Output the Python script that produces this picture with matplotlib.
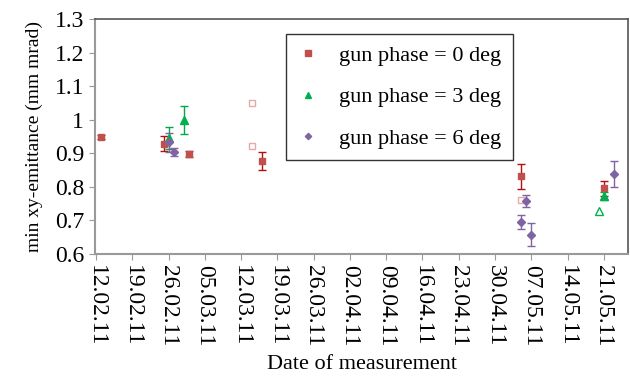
import pandas as pd
import matplotlib
matplotlib.use("Agg")
import matplotlib.pyplot as plt

plt.rcParams['font.family'] = ['Liberation Serif', 'DejaVu Serif']

# gun phase = 0 deg
p0_dates = ['13.02.11', '25.02.11', '02.03.11', '16.03.11', '05.05.11', '21.05.11']
p0_vals = [0.948, 0.928, 0.898, 0.877, 0.831, 0.796]
p0_err = [0.006, 0.022, 0.010, 0.027, 0.038, 0.022]
p0_open_dates = ['14.03.11', '14.03.11', '05.05.11']
p0_open_vals = [1.050, 0.922, 0.761]

# gun phase = 3 deg
p3_dates = ['26.02.11', '01.03.11', '21.05.11']
p3_vals = [0.946, 1.000, 0.772]
p3_err = [0.033, 0.042, 0.012]
p3_open_dates = ['20.05.11']
p3_open_vals = [0.729]

# gun phase = 6 deg
p6_dates = ['26.02.11', '27.02.11', '06.05.11', '05.05.11', '07.05.11', '23.05.11']
p6_vals = [0.933, 0.904, 0.759, 0.695, 0.657, 0.838]
p6_err = [0.028, 0.012, 0.018, 0.020, 0.034, 0.039]

tick_dates = ['12.02.11', '19.02.11', '26.02.11', '05.03.11', '12.03.11', '19.03.11',
              '26.03.11', '02.04.11', '09.04.11', '16.04.11', '23.04.11', '30.04.11',
              '07.05.11', '14.05.11', '21.05.11']

start = pd.to_datetime('12.02.11', format='%d.%m.%y')


def days(lst):
    return [(pd.to_datetime(d, format='%d.%m.%y') - start).days for d in lst]


red, red_e = '#C0504D', '#B01010'
green, green_e = '#00B050', '#00A848'
purple, purple_e = '#8064A2', '#8064A2'

fig = plt.figure(figsize=(6.3, 3.79), dpi=100)
ax = fig.add_axes([0.151, 0.330, 0.846, 0.620])

ax.errorbar(days(p0_dates), p0_vals, yerr=p0_err, fmt='s', color=red, ecolor=red_e,
            ms=5, capsize=3, elinewidth=1, capthick=1, label='gun phase = 0 deg', zorder=3)
ax.plot(days(p0_open_dates), p0_open_vals, 's', mfc='white', mec='#E8A8A6', ms=5, mew=1)
ax.errorbar(days(p3_dates), p3_vals, yerr=p3_err, fmt='^', color=green, ecolor=green_e,
            ms=6, capsize=3, elinewidth=1, capthick=1, label='gun phase = 3 deg', zorder=3)
ax.plot(days(p3_open_dates), p3_open_vals, '^', mfc='white', mec=green, ms=6, mew=1)
ax.errorbar(days(p6_dates), p6_vals, yerr=p6_err, fmt='D', color=purple, ecolor=purple_e,
            ms=4, capsize=3, elinewidth=1, capthick=1, label='gun phase = 6 deg', zorder=3)

ax.set_xlim(-0.2, 102.7)
ax.set_ylim(0.6, 1.3)
ax.set_xticks(days(tick_dates))
ax.set_xticklabels(tick_dates, rotation=270, fontsize=17)
ax.set_yticks([0.6, 0.7, 0.8, 0.9, 1.0, 1.1, 1.2, 1.3])
ax.set_yticklabels(['0.6', '0.7', '0.8', '0.9', '1', '1.1', '1.2', '1.3'], fontsize=17)
ax.tick_params(direction='out', length=4, color='#999999', pad=4)

for s in ['left', 'bottom']:
    ax.spines[s].set_color('#999999')
    ax.spines[s].set_linewidth(1.5)
for s in ['top', 'right']:
    ax.spines[s].set_color('#555555')
    ax.spines[s].set_linewidth(1.2)

ax.set_xlabel('Date of measurement', fontsize=16, labelpad=6)
ax.set_ylabel('min xy-emittance (mm mrad)', fontsize=14, labelpad=8)

handles, labels = ax.get_legend_handles_labels()
handles = [h[0] for h in handles]
leg = ax.legend(handles, labels, loc='upper left', bbox_to_anchor=(0.358, 0.936),
                fontsize=16, frameon=True, fancybox=False, edgecolor='black',
                labelspacing=0.95, borderpad=0.5, handlelength=1.0, handletextpad=0.9,
                borderaxespad=0, markerscale=0.8)
leg.get_frame().set_linewidth(1.0)

fig.savefig('out.png', dpi=100)
